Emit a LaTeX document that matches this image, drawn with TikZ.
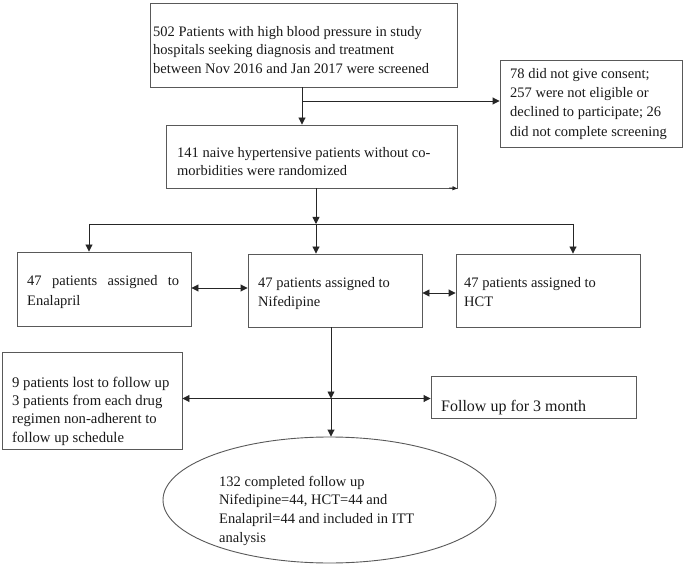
\documentclass[tikz,border=0pt]{standalone}
\usepackage{fontspec}
\setmainfont{Liberation Serif}
\usetikzlibrary{shapes.geometric,arrows.meta}
\begin{document}
\begin{tikzpicture}[x=1pt,y=-1pt,
  box/.style={draw=black!65, line width=0.9pt, rectangle, inner sep=0pt},
  txt/.style={anchor=north west, inner sep=0pt, align=left, text=black!90},
  arr/.style={draw=black!85, line width=0.9pt, -{Triangle[length=7pt,width=7pt]}},
  ln/.style={draw=black!85, line width=0.9pt},
  darr/.style={draw=black!85, line width=0.9pt, {Triangle[length=7pt,width=7pt]}-{Triangle[length=7pt,width=7pt]}}]
\useasboundingbox[fill=white] (0,0) rectangle (683,572);

% boxes
\node[box, minimum width=307pt, minimum height=84pt] (b1) at (303.5,45) {};
\node[box, minimum width=182pt, minimum height=87pt] (b2) at (591,103.5) {};
\node[box, minimum width=291pt, minimum height=63pt] (b3) at (311.5,156.5) {};
\node[box, minimum width=174pt, minimum height=74pt] (bE) at (104,289) {};
\node[box, minimum width=174pt, minimum height=73pt] (bN) at (335,290.5) {};
\node[box, minimum width=184pt, minimum height=73pt] (bH) at (548,290.5) {};
\node[box, minimum width=180pt, minimum height=97pt] (bL) at (92,400.5) {};
\node[box, minimum width=205pt, minimum height=42pt] (bF) at (533.5,397) {};
\node[box, ellipse, minimum width=333pt, minimum height=126pt] (ell) at (329.5,500) {};

% texts
\node[txt, font=\fontsize{14.5}{18.5}\selectfont] (t1) at (153,23.05)
  {\strut 502 Patients with high blood pressure in study\\hospitals seeking diagnosis and treatment\\between Nov 2016 and Jan 2017 were screened};
\node[txt, font=\fontsize{14.5}{19.3}\selectfont] (t2) at (510,64.49)
  {\strut 78 did not give consent;\\257 were not eligible or\\declined to participate; 26\\did not complete screening};
\node[txt, font=\fontsize{14.5}{18}\selectfont] (t3) at (177,144.4)
  {\strut 141 naive hypertensive patients without co-\\morbidities were randomized};
\node[txt, font=\fontsize{14.5}{20}\selectfont] (tE) at (27,271)
  {\strut\makebox[152pt][s]{47 patients assigned to}\\Enalapril};
\node[txt, font=\fontsize{14.5}{19}\selectfont] (tN) at (258,273.7)
  {\strut 47 patients assigned to\\Nifedipine};
\node[txt, font=\fontsize{14.5}{19}\selectfont] (tH) at (464,273.7)
  {\strut 47 patients assigned to\\HCT};
\node[txt, font=\fontsize{14.7}{18.3}\selectfont] (tL) at (12,374.19)
  {\strut 9 patients lost to follow up\\3 patients from each drug\\regimen non-adherent to\\follow up schedule};
\node[txt, font=\fontsize{16}{19}\selectfont] (tF) at (441,397.7)
  {\strut Follow up for 3 month};
\node[txt, font=\fontsize{14.5}{18.7}\selectfont] (tC) at (219,472.91)
  {\strut 132 completed follow up\\Nifedipine=44, HCT=44 and\\Enalapril=44 and included in ITT\\analysis};

% connectors
\coordinate (j1) at (302,101);
\draw[ln] (b1.south -| j1) -- (j1);
\draw[arr] (j1) -- (b3.north -| j1);
\draw[arr] (j1) -- (j1 -| b2.west);

\coordinate (s1) at (449,188);
\draw[ln, -{Triangle[length=5pt,width=4pt]}] (s1) -- (b3.south east);

\coordinate (j2) at (316,224);
\coordinate (jl) at (89,224);
\coordinate (jr) at (573,224);
\draw[arr] (b3.south -| j2) -- (j2);
\draw[arr] (j2) -- (bN.north -| j2);
\draw[ln] (jl) -- (jr);
\draw[arr] (jl) -- (bE.north -| jl);
\draw[arr] (jr) -- (bH.north -| jr);

\coordinate (d1) at (0,288);
\coordinate (d2) at (0,293);
\draw[darr] (bE.east |- d1) -- (bN.west |- d1);
\draw[darr] (bN.east |- d2) -- (bH.west |- d2);

\coordinate (j3) at (331,398.5);
\draw[arr] (bN.south -| j3) -- (j3);
\draw[arr] (j3) -- (ell.north -| j3);
\draw[arr] (j3) -- (j3 -| bL.east);
\draw[arr] (j3) -- (j3 -| bF.west);
\end{tikzpicture}
\end{document}
